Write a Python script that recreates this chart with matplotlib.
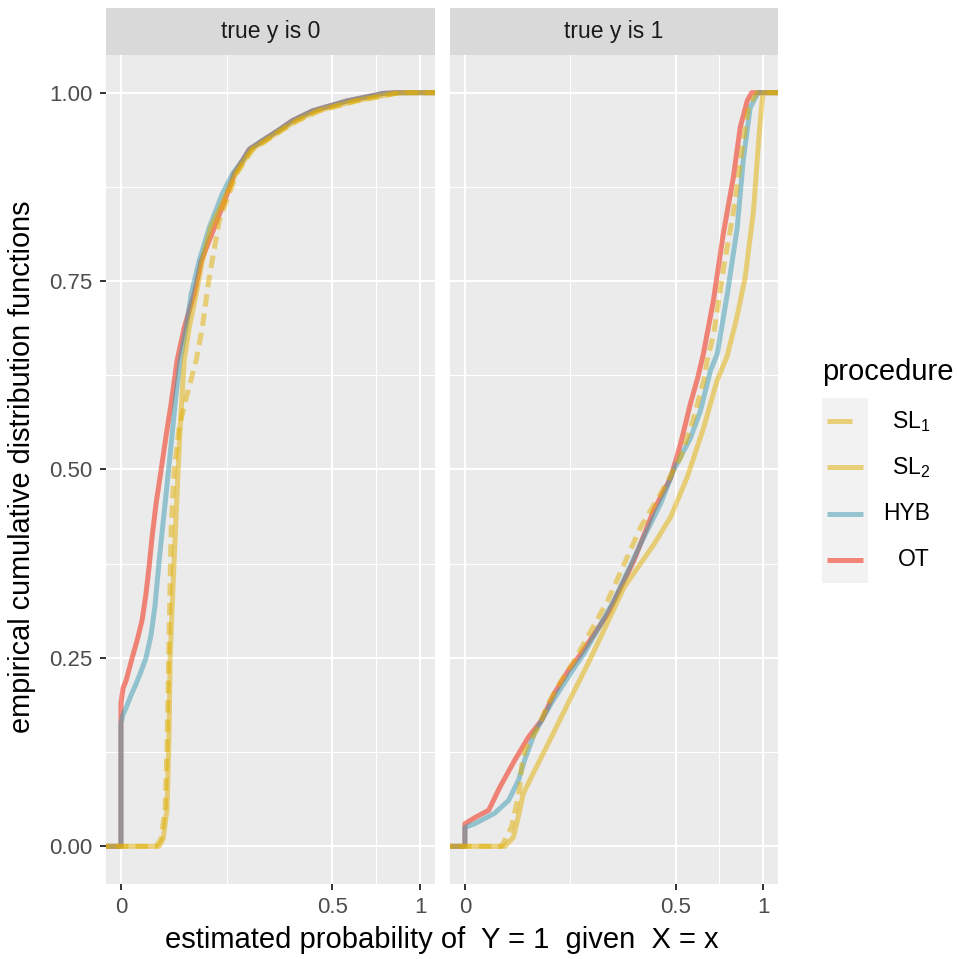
import numpy as np
import matplotlib
matplotlib.use("Agg")
import matplotlib.pyplot as plt

plt.rcParams['font.family'] = ['Liberation Sans', 'DejaVu Sans']
plt.rcParams['mathtext.fontset'] = 'custom'
plt.rcParams['mathtext.rm'] = 'Liberation Sans'
plt.rcParams['mathtext.default'] = 'regular'

# ---- data (ECDF knots, x = estimated probability) ----
# panel "true y is 0"
ot0_x = [0, 0, 0.00005, 0.0003, 0.0014, 0.0029, 0.0050, 0.0070, 0.0088, 0.0108, 0.0138, 0.0180,
         0.0228, 0.0282, 0.0353, 0.0447, 0.0600, 0.0721, 0.0974, 0.1265, 0.1438, 0.1650, 0.1845,
         0.237, 0.281, 0.329, 0.411, 0.570, 0.767, 0.85]
ot0_y = [0, 0.190, 0.210, 0.220, 0.250, 0.273, 0.300, 0.335, 0.370, 0.410, 0.455, 0.499,
         0.545, 0.588, 0.645, 0.688, 0.733, 0.777, 0.821, 0.866, 0.893, 0.910, 0.925,
         0.940, 0.951, 0.963, 0.976, 0.989, 0.999, 1.0]
hyb0_x = [0, 0, 0.00005, 0.0003, 0.0011, 0.0025, 0.0045, 0.0070, 0.0101, 0.0130, 0.0163, 0.0228,
          0.0282, 0.0341, 0.0392, 0.0476, 0.0552, 0.0685, 0.0872, 0.1149, 0.1400, 0.1650, 0.1845,
          0.237, 0.281, 0.329, 0.411, 0.570, 0.767, 0.85]
hyb0_y = [0, 0.163, 0.175, 0.184, 0.200, 0.215, 0.232, 0.250, 0.280, 0.320, 0.379, 0.468,
          0.534, 0.601, 0.645, 0.688, 0.733, 0.777, 0.821, 0.866, 0.893, 0.910, 0.925,
          0.940, 0.951, 0.963, 0.976, 0.989, 0.999, 1.0]
sl2_0_x = [0.0163, 0.0200, 0.0238, 0.0259, 0.0270, 0.0316, 0.0366, 0.0392, 0.0419, 0.0447, 0.0521,
           0.0633, 0.0739, 0.0900, 0.112, 0.131, 0.148, 0.170, 0.192, 0.247, 0.290, 0.345, 0.433,
           0.611, 0.839, 0.90]
sl2_0_y = [0, 0.010, 0.050, 0.150, 0.250, 0.379, 0.500, 0.556, 0.600, 0.645, 0.688,
           0.733, 0.777, 0.821, 0.850, 0.874, 0.893, 0.910, 0.925, 0.940, 0.951, 0.963, 0.976,
           0.989, 0.999, 1.0]
sl1_0_x = [0.0138, 0.0180, 0.0218, 0.0238, 0.0254, 0.0270, 0.0282, 0.0316, 0.0379, 0.0491, 0.0633,
           0.0739, 0.0872, 0.108, 0.131, 0.150, 0.172, 0.195, 0.250, 0.293, 0.350, 0.440, 0.620,
           0.840, 0.90]
sl1_0_y = [0, 0.010, 0.050, 0.137, 0.247, 0.350, 0.423, 0.499, 0.556, 0.600, 0.645,
           0.688, 0.755, 0.830, 0.866, 0.893, 0.910, 0.925, 0.940, 0.951, 0.963, 0.976, 0.989,
           0.999, 1.0]

# panel "true y is 1"
ot1_x = [0, 0, 0.0011, 0.0064, 0.0136, 0.0278, 0.0455, 0.0659, 0.0900, 0.1202, 0.1521, 0.2304,
         0.3211, 0.4011, 0.4761, 0.5232, 0.5725, 0.6100, 0.6400, 0.6944, 0.7511, 0.8100, 0.8525,
         0.8962, 0.925]
ot1_y = [0, 0.030, 0.038, 0.048, 0.078, 0.114, 0.145, 0.167, 0.203, 0.233, 0.256, 0.309,
         0.379, 0.446, 0.489, 0.534, 0.588, 0.622, 0.654, 0.724, 0.813, 0.887, 0.954,
         0.989, 1.0]
hyb1_x = [0, 0, 0.0011, 0.0100, 0.0215, 0.0324, 0.0400, 0.0544, 0.0841, 0.1344, 0.1600, 0.2500,
          0.3481, 0.4312, 0.4900, 0.5725, 0.6241, 0.6779, 0.7168, 0.7744, 0.8342, 0.8711, 0.9152,
          0.9669]
hyb1_y = [0, 0.025, 0.030, 0.044, 0.061, 0.088, 0.114, 0.150, 0.190, 0.237, 0.256, 0.326,
          0.402, 0.455, 0.499, 0.542, 0.578, 0.631, 0.654, 0.733, 0.821, 0.910, 0.980,
          1.0]
sl2_1_x = [0.0180, 0.0264, 0.0320, 0.0383, 0.0549, 0.0778, 0.1009, 0.1313, 0.1566, 0.1792, 0.2855,
           0.4024, 0.4761, 0.5560, 0.6416, 0.7151, 0.7726, 0.8300, 0.8836, 0.9366, 0.9690, 0.9910,
           1.0]
sl2_1_y = [0, 0.012, 0.039, 0.070, 0.101, 0.136, 0.167, 0.203, 0.229, 0.251, 0.344,
           0.401, 0.437, 0.490, 0.556, 0.618, 0.650, 0.700, 0.755, 0.843, 0.932, 0.985,
           1.0]
sl1_1_x = [0.0152, 0.0245, 0.0300, 0.0340, 0.0361, 0.0404, 0.0603, 0.0778, 0.1045, 0.1352, 0.2294,
           0.3481, 0.4312, 0.5232, 0.5894, 0.6416, 0.6599, 0.6961, 0.7528, 0.8118, 0.8630, 0.9044,
           0.9580]
sl1_1_y = [0, 0.026, 0.056, 0.079, 0.105, 0.127, 0.158, 0.189, 0.220, 0.247, 0.326,
           0.424, 0.468, 0.516, 0.569, 0.618, 0.645, 0.680, 0.768, 0.843, 0.923, 0.981,
           1.0]

panels = ['true y is 0', 'true y is 1']
curves = [
    {'SL1': (sl1_0_x, sl1_0_y), 'SL2': (sl2_0_x, sl2_0_y), 'HYB': (hyb0_x, hyb0_y), 'OT': (ot0_x, ot0_y)},
    {'SL1': (sl1_1_x, sl1_1_y), 'SL2': (sl2_1_x, sl2_1_y), 'HYB': (hyb1_x, hyb1_y), 'OT': (ot1_x, ot1_y)},
]
procedures = ['SL1', 'SL2', 'HYB', 'OT']
legend_labels = ['SL$_1$', 'SL$_2$', 'HYB', 'OT']
colors = {'SL1': '#E1AF00', 'SL2': '#E1AF00', 'HYB': '#3B9AB2', 'OT': '#F21A00'}
draw_order = ['OT', 'HYB', 'SL2', 'SL1']

LW = 3.6
ALPHA = 0.5


def fwd(x):
    return np.sign(x) * np.sqrt(np.abs(x))


def inv(x):
    return np.sign(x) * x ** 2


W, H = 957, 959
fig = plt.figure(figsize=(W / 100, H / 100), dpi=100)


def px_box(x0, y0, x1, y1):
    return [x0 / W, 1 - y1 / H, (x1 - x0) / W, (y1 - y0) / H]


panel_x = [(106, 435), (450, 778)]
for i, (x0, x1) in enumerate(panel_x):
    ax = fig.add_axes(px_box(x0, 55, x1, 884))
    ax.set_facecolor('#EBEBEB')
    for s in ax.spines.values():
        s.set_visible(False)
    ax.set_xscale('function', functions=(fwd, inv))
    ax.set_xlim(inv(-0.05), inv(1.05))
    ax.set_ylim(-0.05, 1.05)

    for p in draw_order:
        xs, ys = curves[i][p]
        xs = [-1] + list(xs) + [2]
        ys = [0] + list(ys) + [1]
        ls = (0, (2.5, 1.4)) if p == 'SL1' else '-'
        ax.plot(xs, ys, color=colors[p], alpha=ALPHA, lw=LW, ls=ls,
                solid_capstyle='butt', dash_capstyle='butt', solid_joinstyle='round')

    ax.set_xticks([0, 0.5, 1])
    ax.set_xticklabels(['0', '0.5', '1'])
    ax.set_xticks([inv(fwd(0.5) / 2), inv((fwd(0.5) + 1) / 2)], minor=True)
    ax.set_yticks([0, 0.25, 0.5, 0.75, 1])
    ax.set_yticklabels(['0.00', '0.25', '0.50', '0.75', '1.00'])
    ax.set_yticks([0.125, 0.375, 0.625, 0.875], minor=True)
    ax.grid(which='major', color='white', lw=1.5)
    ax.grid(which='minor', color='white', lw=0.75)
    ax.set_axisbelow(True)
    ax.tick_params(which='major', length=4.5, width=1.4, color='#333333',
                   labelcolor='#4D4D4D', labelsize=16, pad=5)
    ax.tick_params(which='minor', length=0)
    if i == 1:
        ax.tick_params(axis='y', which='both', left=False, labelleft=False)

    sax = fig.add_axes(px_box(x0, 8, x1, 55))
    sax.set_facecolor('#D9D9D9')
    for s in sax.spines.values():
        s.set_visible(False)
    sax.set_xticks([])
    sax.set_yticks([])
    sax.text(0.5, 0.5, panels[i], ha='center', va='center', fontsize=16.5, color='#1A1A1A',
             transform=sax.transAxes)

fig.text(22 / W, 1 - 467 / H, 'empirical cumulative distribution functions', rotation=90,
         ha='center', va='center', fontsize=20.8, color='black')
fig.text(442 / W, 1 - 940 / H, 'estimated probability of  Y = 1  given  X = x',
         ha='center', va='center', fontsize=21, color='black')

# legend
fig.text(822 / W, 1 - 372 / H, 'procedure', ha='left', va='center', fontsize=21, color='black')
lax = fig.add_axes(px_box(822, 398, 868, 583))
lax.set_facecolor('#F2F2F2')
for s in lax.spines.values():
    s.set_visible(False)
lax.set_xticks([])
lax.set_yticks([])
lax.set_xlim(0, 1)
lax.set_ylim(0, 4)
for k, (p, lab) in enumerate(zip(procedures, legend_labels)):
    yk = 3.5 - k
    ls = (0, (5, 3)) if p == 'SL1' else '-'
    lax.plot([0.11, 0.89], [yk, yk], color=colors[p], alpha=ALPHA, lw=LW, ls=ls,
             solid_capstyle='butt', dash_capstyle='butt')
    yc = 398 + (k + 0.5) * (583 - 398) / 4
    fig.text(930 / W, 1 - yc / H, lab, ha='right', va='center', fontsize=16.5, color='black')

fig.savefig('out.png', dpi=100, facecolor='white')
